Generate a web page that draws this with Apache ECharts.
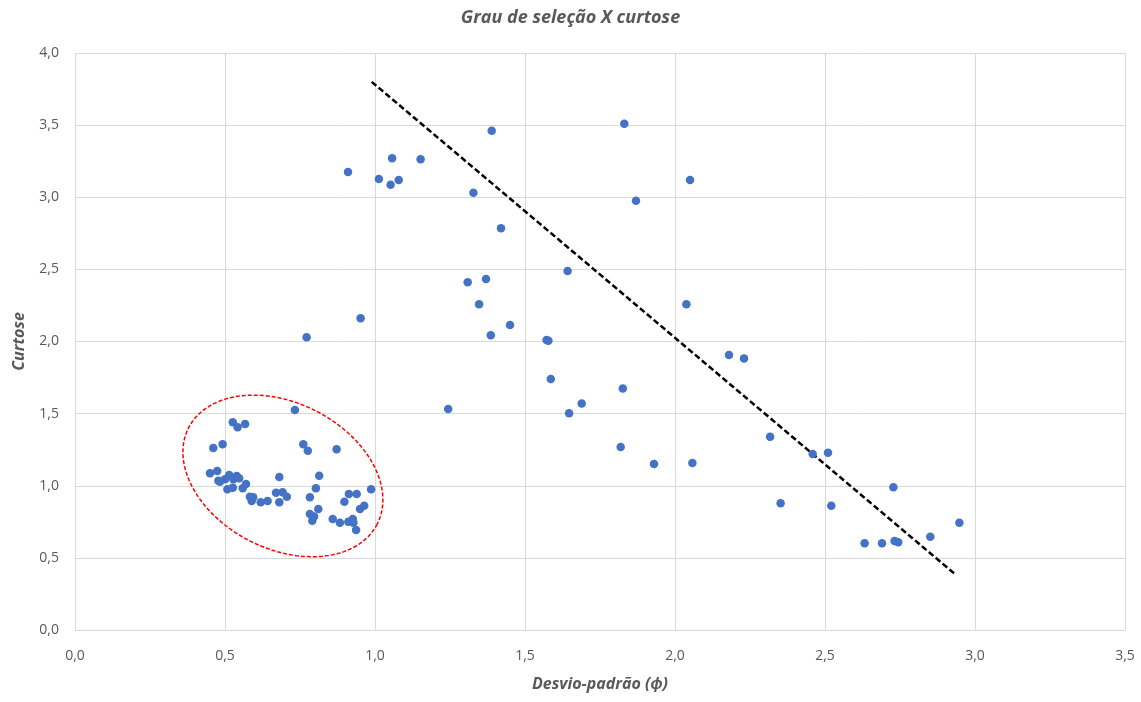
<!DOCTYPE html>
<html>
<head>
<meta charset="utf-8">
<script src="https://cdn.jsdelivr.net/npm/echarts@6/dist/echarts.min.js"></script>
<style>
html,body{margin:0;padding:0;background:#fff;}
#chart{width:1141px;height:702px;}
</style>
</head>
<body>
<div id="chart"></div>
<script>
// Desvio-padrão (x) and Curtose (y)
const desvio = [
  0.733,0.526,0.542,0.567,0.461,0.492,0.761,0.776,0.872,0.450,0.474,0.478,
  0.500,0.514,0.528,0.539,0.547,0.508,0.526,0.559,0.570,0.483,
  0.583,0.594,0.589,0.619,0.642,0.670,0.681,0.681,0.692,0.706,
  0.814,0.803,0.783,0.811,0.783,0.797,0.791,0.859,0.883,0.898,0.913,0.939,
  0.987,0.950,0.964,0.911,0.926,0.928,0.937,
  1.389,1.057,1.152,0.910,1.013,1.052,1.079,1.328,1.420,1.309,1.370,1.347,
  0.952,1.450,1.386,0.772,
  1.831,2.050,1.870,1.642,2.038,1.572,1.578,2.180,2.230,1.586,1.826,1.244,
  1.689,1.647,1.819,1.930,2.058,
  2.317,2.459,2.510,2.352,2.521,2.728,2.948,2.851,2.632,2.690,2.732,2.744
];
const curtose = [
  1.525,1.440,1.405,1.428,1.262,1.287,1.287,1.243,1.253,1.086,1.102,1.035,
  1.045,1.075,1.045,1.068,1.052,0.975,0.987,0.982,1.012,1.028,
  0.924,0.920,0.894,0.885,0.894,0.952,1.060,0.885,0.955,0.924,
  1.070,0.982,0.920,0.839,0.804,0.786,0.758,0.770,0.744,0.889,0.943,0.943,
  0.975,0.839,0.862,0.751,0.770,0.744,0.693,
  3.461,3.270,3.263,3.175,3.127,3.087,3.120,3.032,2.785,2.410,2.433,2.258,
  2.161,2.114,2.043,2.029,
  3.510,3.120,2.976,2.489,2.258,2.010,2.006,1.906,1.883,1.740,1.675,1.532,
  1.571,1.502,1.269,1.151,1.158,
  1.340,1.220,1.229,0.878,0.862,0.989,0.744,0.647,0.601,0.601,0.617,0.608
];
// Dashed trend line (endpoints in data units)
const trendX = [0.989, 2.933];
const trendY = [3.800, 0.388];
// Highlight ellipse: center in data units
const ellipseCenter = [0.693, 1.068];

const xTicks = ['0,0','0,5','1,0','1,5','2,0','2,5','3,0','3,5'];
const yTicks = ['0,0','0,5','1,0','1,5','2,0','2,5','3,0','3,5','4,0'];

const points = desvio.map((x, i) => [x, curtose[i]]);
const trend = trendX.map((x, i) => [x, trendY[i]]);

const FONT = '"Open Sans", "Liberation Sans", sans-serif';
const chart = echarts.init(document.getElementById('chart'), null, {renderer: 'canvas'});

chart.setOption({
  animation: false,
  backgroundColor: '#ffffff',
  title: {
    text: 'Grau de seleção X curtose',
    left: 'center',
    top: 4,
    textStyle: {fontFamily: FONT, fontSize: 18, fontWeight: 'bold', fontStyle: 'italic', color: '#595959'}
  },
  grid: {left: 75, right: 16, top: 53, bottom: 72, containLabel: false},
  xAxis: {
    type: 'value', min: 0, max: 3.5, interval: 0.5,
    name: 'Desvio-padrão (ϕ)', nameLocation: 'middle', nameGap: 46,
    nameTextStyle: {fontFamily: FONT, fontSize: 16, fontWeight: 'bold', fontStyle: 'italic', color: '#595959'},
    axisLine: {show: true, lineStyle: {color: '#d9d9d9', width: 1}},
    axisTick: {show: false},
    axisLabel: {
      fontFamily: FONT, fontSize: 14, color: '#595959', margin: 19,
      formatter: v => xTicks[Math.round(v / 0.5)]
    },
    splitLine: {show: true, lineStyle: {color: '#d9d9d9', width: 1}}
  },
  yAxis: {
    type: 'value', min: 0, max: 4, interval: 0.5,
    name: 'Curtose', nameLocation: 'middle', nameGap: 48, nameRotate: 90,
    nameTextStyle: {fontFamily: FONT, fontSize: 16, fontWeight: 'bold', fontStyle: 'italic', color: '#595959'},
    axisLine: {show: false},
    axisTick: {show: false},
    axisLabel: {
      fontFamily: FONT, fontSize: 14, color: '#595959', margin: 16,
      formatter: v => yTicks[Math.round(v / 0.5)]
    },
    splitLine: {show: true, lineStyle: {color: '#d9d9d9', width: 1}}
  },
  series: [
    {
      type: 'custom',
      data: [ellipseCenter],
      z: 1,
      silent: true,
      renderItem: function (params, api) {
        const c = api.coord([api.value(0), api.value(1)]);
        const pxPerX = api.size([1, 0])[0];
        const a = 0.353 * pxPerX, b = 0.243 * pxPerX;
        const th = 27 * Math.PI / 180;
        const pts = [];
        for (let k = 0; k <= 120; k++) {
          const t = k / 120 * 2 * Math.PI;
          const ex = a * Math.cos(t), ey = b * Math.sin(t);
          pts.push([c[0] + ex * Math.cos(th) - ey * Math.sin(th),
                    c[1] + ex * Math.sin(th) + ey * Math.cos(th)]);
        }
        return {
          type: 'polyline',
          shape: {points: pts},
          style: {stroke: '#ff0000', lineWidth: 1.5, fill: null, lineDash: [4, 2]}
        };
      }
    },
    {
      type: 'scatter',
      data: points,
      symbol: 'circle',
      symbolSize: 8.5,
      itemStyle: {color: '#4472C4', opacity: 1},
      z: 3
    },
    {
      type: 'line',
      data: trend,
      symbol: 'none',
      lineStyle: {color: '#000000', width: 2.5, type: [6, 3]},
      z: 2
    }
  ]
});
</script>
</body>
</html>
